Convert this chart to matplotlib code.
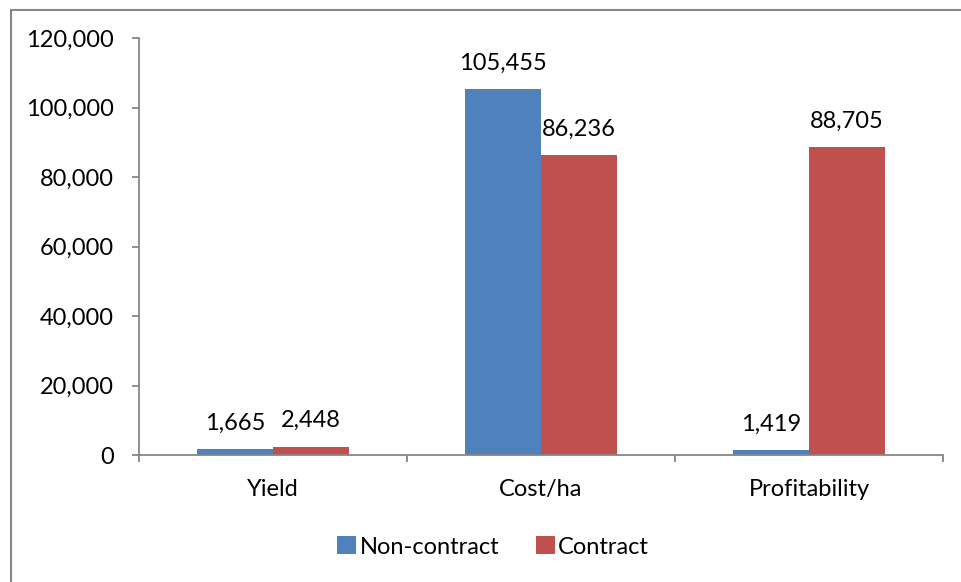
import matplotlib
matplotlib.use("Agg")
import matplotlib.pyplot as plt
from matplotlib.lines import Line2D
from matplotlib.ticker import FuncFormatter
import numpy as np

categories = ["Yield", "Cost/ha", "Profitability"]
non_contract = [1665, 105455, 1419]
contract = [2448, 86236, 88705]
series_names = ["Non-contract", "Contract"]

blue = "#4F81BD"
red = "#C0504D"
grey = "#868686"

plt.rcParams["font.family"] = ["Lato", "DejaVu Sans"]
plt.rcParams["font.size"] = 17

fig = plt.figure(figsize=(9.61, 5.82), dpi=100)
ax = fig.add_axes([0.1446, 0.2182, 0.9813 - 0.1446, 0.9347 - 0.2182])

x = np.arange(len(categories))
w = 0.285
b1 = ax.bar(x - w / 2, non_contract, w, color=blue, label=series_names[0])
b2 = ax.bar(x + w / 2, contract, w, color=red, label=series_names[1])

for bars, vals in ((b1, non_contract), (b2, contract)):
    for rect, v in zip(bars, vals):
        ax.annotate(f"{v:,}", (rect.get_x() + rect.get_width() / 2, v),
                    xytext=(0, 18.5), textcoords="offset points",
                    ha="center", va="center")

ax.set_xlim(-0.5, 2.5)
ax.set_ylim(0, 120000)
ax.set_yticks(np.arange(0, 120001, 20000))
ax.yaxis.set_major_formatter(FuncFormatter(lambda v, p: f"{int(v):,}"))

# category boundaries carry the x ticks, labels sit between them
ax.set_xticks([-0.5, 0.5, 1.5, 2.5])
ax.set_xticklabels([])
ax.set_xticks(x, minor=True)
ax.set_xticklabels(categories, minor=True)
ax.tick_params(axis="x", which="minor", length=0, pad=17)
ax.tick_params(axis="x", which="major", length=5, width=1.3, color=grey, direction="out")
ax.tick_params(axis="y", length=5, width=1.3, color=grey, pad=13)

for s in ("top", "right"):
    ax.spines[s].set_visible(False)
for s in ("left", "bottom"):
    ax.spines[s].set_color(grey)
    ax.spines[s].set_linewidth(1.3)

fig.legend(handles=[b1, b2], loc="center", bbox_to_anchor=(0.513, 1 - 547 / 582),
           ncol=2, frameon=False, handlelength=0.8, handleheight=0.8,
           handletextpad=0.15, columnspacing=1.55)

# chart area frame
fig.add_artist(Line2D([10.5 / 961, 1], [1 - 9.5 / 582] * 2, color=grey, lw=1.5))
fig.add_artist(Line2D([10.5 / 961] * 2, [0, 1 - 9.5 / 582], color=grey, lw=1.5))

fig.savefig("out.png", dpi=100, facecolor="white")
